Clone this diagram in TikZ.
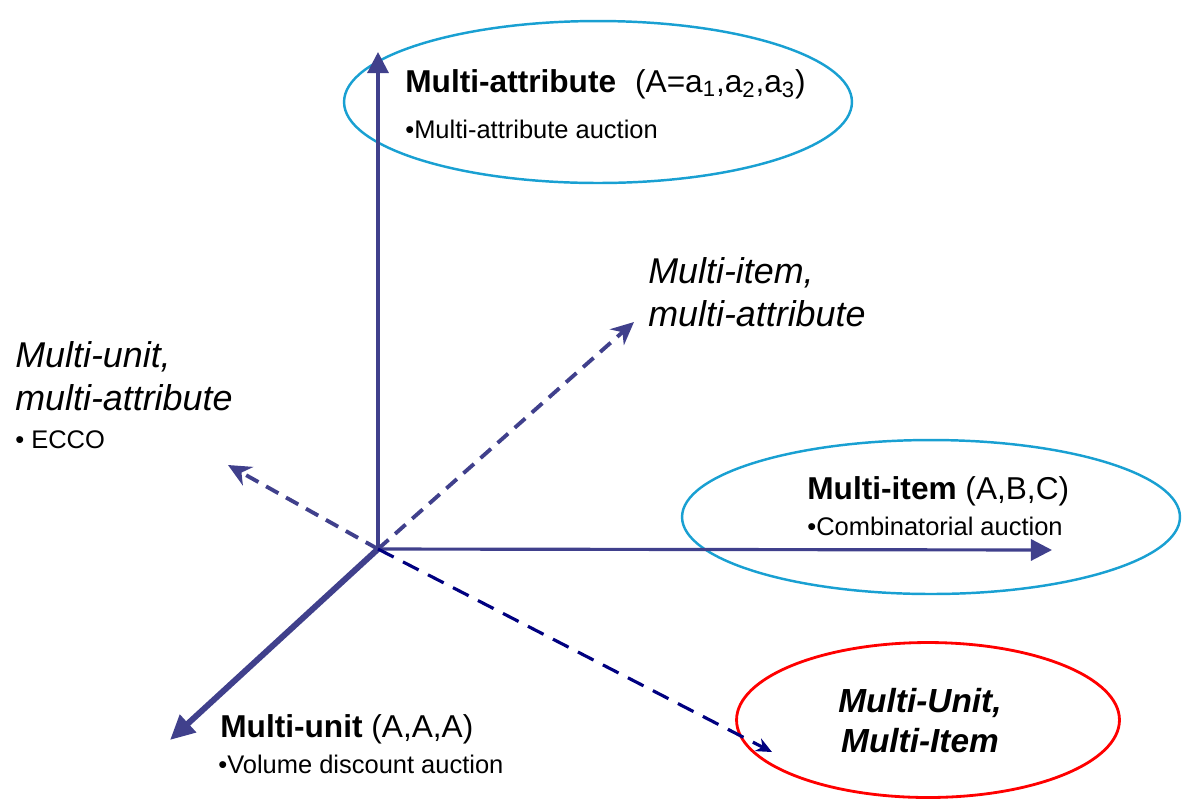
\documentclass[tikz,border=0pt]{standalone}
\usepackage{fontspec}
\setmainfont{Liberation Sans}
\usetikzlibrary{arrows.meta,shapes.geometric}
\definecolor{axisblue}{RGB}{64,64,140}
\definecolor{ringblue}{RGB}{25,160,210}
\definecolor{deepnavy}{RGB}{0,0,128}

\begin{document}
\begin{tikzpicture}[x=0.02cm,y=-0.02cm,
  axis/.style={axisblue,line width=1.8pt,-{Triangle[length=12pt,width=12pt]}},
  diag/.style={axisblue,line width=2.2pt,dash pattern=on 8pt off 5pt,-{Stealth[length=13pt,width=12pt]}},
  ring/.style={ellipse,draw=ringblue,line width=1.4pt,inner sep=0pt},
  title/.style={anchor=base west,inner sep=0pt,font=\fontsize{18}{22}\selectfont},
  sub/.style={anchor=base west,inner sep=0pt,font=\fontsize{14.5}{17}\selectfont},
  combo/.style={anchor=base west,inner sep=0pt,font=\fontsize{20.4}{24}\selectfont\itshape}]
\useasboundingbox (0,0) rectangle (1182,799);
\node [ring,minimum width=10.16cm,minimum height=3.24cm] (attr) at (598,102) {};
\node [ring,minimum width=9.96cm,minimum height=3.08cm] (item) at (931,517) {};
\node [ring,draw=red,line width=1.6pt,minimum width=7.66cm,minimum height=3.1cm] (unititem) at (928,720) {};
\coordinate (O) at (378,549);
\coordinate (up) at (378,52);
\coordinate (right) at (1052,550);
\coordinate (down) at (170,740);
\coordinate (ul) at (228,465);
\coordinate (ur) at (634,322);
\coordinate (dr) at (772,752);
\draw [axis] (O) -- (up);
\draw [axis] (O) -- (right);
\draw [axis,line width=3.4pt,-{Triangle[length=14pt,width=13pt]}] (O) -- (down);
\draw [diag] (O) -- (ul);
\draw [diag] (O) -- (ur);
\draw [diag,deepnavy,line width=1.8pt,dash pattern=on 10pt off 6pt,-{Stealth[length=9pt,width=8pt]}] (O) -- (dr);
\node [title] (attrT) at (405,92) {\textbf{Multi-attribute}\hspace{0.6em}(A=a\textsubscript{1},a\textsubscript{2},a\textsubscript{3})};
\node [sub] (attrS) at (405,138) {•Multi-attribute auction};
\node [title] (itemT) at (807,499) {\textbf{Multi-item} (A,B,C)};
\node [sub] (itemS) at (807,535) {•Combinatorial auction};
\node [title] (unitT) at (220,737) {\textbf{Multi-unit} (A,A,A)};
\node [sub] (unitS) at (218,773) {•Volume discount auction};
\node [combo] (imaA) at (648,283) {Multi-item,};
\node [combo] (imaB) at (648,326) {multi-attribute};
\node [combo] (umaA) at (15,367) {Multi-unit,};
\node [combo] (umaB) at (15,410) {multi-attribute};
\node [sub] (umaS) at (15,448) {• ECCO};
\node [combo,anchor=base,font=\fontsize{19}{23}\selectfont\bfseries\itshape] (uiA) at (920,712) {Multi-Unit,};
\node [combo,anchor=base,font=\fontsize{19}{23}\selectfont\bfseries\itshape] (uiB) at (920,752) {Multi-Item};
\end{tikzpicture}
\end{document}
